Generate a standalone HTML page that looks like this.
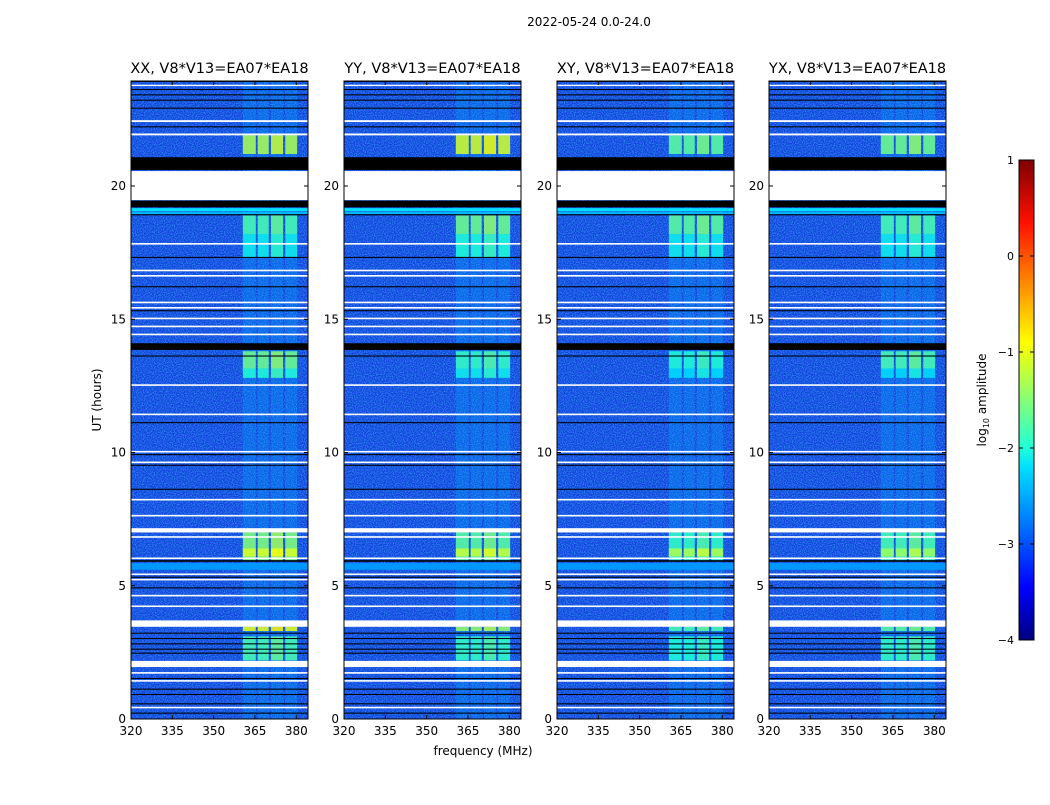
<!DOCTYPE html>
<html><head><meta charset="utf-8">
<style>
body{margin:0;background:#fff;}
svg text{font-family:"DejaVu Sans","Liberation Sans",sans-serif;}
</style></head>
<body>
<svg id="fig" width="1050" height="800" xmlns="http://www.w3.org/2000/svg">
<defs>
<linearGradient id="jet" x1="0" y1="1" x2="0" y2="0">
<stop offset="0" stop-color="#00007f"/><stop offset="0.11" stop-color="#0000ff"/>
<stop offset="0.36" stop-color="#00e0ff"/><stop offset="0.4" stop-color="#20ffd8"/><stop offset="0.62" stop-color="#ffff00"/>
<stop offset="0.87" stop-color="#ff1000"/><stop offset="1" stop-color="#7f0000"/>
</linearGradient>
<filter id="noise" x="0" y="0" width="100%" height="100%">
<feTurbulence type="fractalNoise" baseFrequency="0.9" numOctaves="1" seed="3"/>
<feColorMatrix values="0 0 0 0 0.05  0 0 0 0 0.5  0 0 0 0 1  0 0 0 1.6 -0.6"/>
</filter>
</defs>
<text x="589" y="26" font-size="12" text-anchor="middle">2022-05-24 0.0-24.0</text>
<text transform="translate(101,400) rotate(-90)" font-size="12" text-anchor="middle">UT (hours)</text>
<text x="483" y="755" font-size="12" text-anchor="middle">frequency (MHz)</text>
<g id="panels"></g>
<g>
<rect x="1019" y="160" width="15" height="480" fill="url(#jet)" stroke="#000" stroke-width="1"/>
<text transform="translate(986,400) rotate(-90)" font-size="12" text-anchor="middle">log<tspan font-size="8" dy="3">10</tspan><tspan dy="-3"> amplitude</tspan></text>
<g id="cbticks"></g>
</g>
</svg>
<script>
const titles=["XX, V8*V13=EA07*EA18","YY, V8*V13=EA07*EA18","XY, V8*V13=EA07*EA18","YX, V8*V13=EA07*EA18"];
const panelLefts=[131,344,557,769];
const xTicks=[320,335,350,365,380];
const yTicks=[0,5,10,15,20];
const cbTicks=[1,0,-1,-2,-3,-4];
// flagged (white) intervals in hours
const whiteFlags=[[19.47,20.56],[3.46,3.7],[1.95,2.18],[7.0,7.16],[22.4,22.47],[21.9,21.97],[17.8,17.86],[16.8,16.86],[16.6,16.66],[15.6,15.66],[15.4,15.46],[15.0,15.06],[14.7,14.76],[14.4,14.46],[12.5,12.56],[11.4,11.46],[10.0,10.06],[9.6,9.66],[8.2,8.26],[7.6,7.66],[6.8,6.86],[6.0,6.06],[5.4,5.46],[5.2,5.26],[4.6,4.66],[4.2,4.26],[1.7,1.76],[1.4,1.46],[0.4,0.46],[23.75,23.8]];
// black (zero) intervals in hours
const blackFlags=[[20.6,21.08],[19.2,19.45],[13.85,14.1],[23.6,23.64],[23.4,23.44],[23.2,23.24],[22.9,22.94],[22.2,22.24],[18.9,18.94],[17.3,17.34],[16.2,16.24],[15.3,15.34],[13.6,13.64],[11.1,11.14],[9.9,9.94],[9.5,9.54],[8.6,8.64],[5.9,5.96],[5.3,5.34],[4.9,4.94],[3.2,3.24],[3.0,3.04],[2.8,2.84],[2.6,2.64],[2.45,2.49],[1.5,1.54],[1.1,1.14],[0.9,0.94],[0.55,0.59],[0.2,0.24],[24.0,24.2]];
// bright RFI blocks: start hour, end hour, log10 amplitude per panel
const brightStart=[21.2,17.3,13.15,5.95,3.3,2.2,6.1,18.2,12.8];
const brightEnd=[21.9,18.2,13.8,7.0,3.46,3.1,6.4,18.9,13.15];
const brightXX=[-1.3,-2.1,-1.6,-1.5,-1.0,-1.8,-1.1,-1.8,-2.0];
const brightYY=[-1.1,-2.0,-1.9,-1.7,-1.4,-1.9,-1.2,-1.6,-2.1];
const brightXY=[-1.7,-2.1,-2.0,-1.9,-1.8,-2.0,-1.3,-1.7,-2.2];
const brightYX=[-1.6,-2.1,-1.8,-1.8,-1.7,-1.9,-1.4,-1.8,-2.2];
const brightAll=[brightXX,brightYY,brightXY,brightYX];
// sub-band edges (MHz)
const subLo=[360.6,366,370.8,376];
const subHi=[365.3,370,375.2,380.3];
// cyan horizontal stripes (hours, log amplitude)
const stripeStart=[19.05,18.95,5.6];
const stripeEnd=[19.17,19.02,5.85];
const stripeVal=[-2.2,-2.4,-2.6];

const X0=320,X1=384.25,Y0=719,Y1=81,W=177;
function xs(p,f){return panelLefts[p]+(f-X0)/(X1-X0)*W;}
function ys(h){return Y0-(h/24.0)*(Y0-79.4);}
function jet(v){let t=(v+4)/5;t=Math.max(0,Math.min(1,t));
 const s=[[0,[0,0,127]],[0.11,[0,0,255]],[0.36,[0,224,255]],[0.4,[32,255,216]],[0.62,[255,255,0]],[0.87,[255,16,0]],[1,[127,0,0]]];
 for(let i=1;i<s.length;i++){if(t<=s[i][0]){const a=s[i-1],b=s[i],u=(t-a[0])/(b[0]-a[0]);
 return 'rgb('+a[1].map((c,k)=>Math.round(c+(b[1][k]-c)*u)).join(',')+')';}}return 'rgb(127,0,0)';}
const NS='http://www.w3.org/2000/svg';
function mk(tag,attrs,parent){const e=document.createElementNS(NS,tag);for(const k in attrs)e.setAttribute(k,attrs[k]);parent.appendChild(e);return e;}
function rectH(p,h0,h1,f0,f1,fill,g){const x=xs(p,f0),x2=xs(p,Math.min(f1,X1));const y=ys(Math.min(h1,24.2)),y2=ys(Math.max(h0,0));
 return mk('rect',{x:x,y:Math.max(y,Y1),width:x2-x,height:Math.max(1,y2-Math.max(y,Y1)),fill:fill},g);}
const panels=document.getElementById('panels');
for(let p=0;p<4;p++){
 const g=mk('g',{},panels);
 
 
 const L=panelLefts[p];
 const bg=mk('rect',{x:L,y:Y1,width:W,height:Y0-Y1,fill:'#1240dc'},g);
 
 
 mk('rect',{x:L,y:Y1,width:W,height:Y0-Y1,filter:'url(#noise)'},g);
 for(let i=0;i<4;i++){const r=rectH(p,0,24,subLo[i],subHi[i],jet(-2.5),g);r.setAttribute('opacity','0.3');
  
  }
 for(let i=0;i<stripeStart.length;i++){const r=rectH(p,stripeStart[i],stripeEnd[i],X0,X1,jet(stripeVal[i]),g);
  
  }
 const br=brightAll[p];
 for(let j=0;j<brightStart.length;j++)for(let i=0;i<4;i++){const r=rectH(p,brightStart[j],brightEnd[j],subLo[i],subHi[i],jet(br[j]+(i==2?0.15:0)),g);
  r.setAttribute('opacity','0.85');
  
  }
 for(const f of whiteFlags){const r=rectH(p,f[0],f[1],X0,X1,'#ffffff',g);
  
  }
 for(const f of blackFlags){const r=rectH(p,f[0],f[1],X0,X1,'#000000',g);
  
  }
 const fr=mk('rect',{x:L,y:Y1,width:W,height:Y0-Y1,fill:'none',stroke:'#000','stroke-width':1},g);
 
 
 const t=mk('text',{x:L+W/2,y:73,'font-size':14.5,'text-anchor':'middle'},g);t.textContent=titles[p];
 
 
 for(const v of xTicks){const x=xs(p,v);
  mk('line',{x1:x,x2:x,y1:Y0,y2:Y0-4,stroke:'#000'},g);mk('line',{x1:x,x2:x,y1:Y1,y2:Y1+4,stroke:'#000'},g);
  const tx=mk('text',{x:x,y:Y0+16,'font-size':12,'text-anchor':'middle'},g);tx.textContent=v;
  
  }
 for(const v of yTicks){const y=ys(v);
  mk('line',{x1:L,x2:L+4,y1:y,y2:y,stroke:'#000'},g);mk('line',{x1:L+W,x2:L+W-4,y1:y,y2:y,stroke:'#000'},g);
  const ty=mk('text',{x:L-5,y:y+4,'font-size':12,'text-anchor':'end'},g);ty.textContent=v;
  
  }
}
const cb=document.getElementById('cbticks');
for(const v of cbTicks){const y=640-(v+4)/5*480;
 mk('line',{x1:1019,x2:1023,y1:y,y2:y,stroke:'#000'},cb);mk('line',{x1:1030,x2:1034,y1:y,y2:y,stroke:'#000'},cb);
 const t=mk('text',{x:1014,y:y+4,'font-size':11,'text-anchor':'end'},cb);t.textContent=v<0?'\u2212'+(-v):v;
 
 }
</script>
</body></html>
